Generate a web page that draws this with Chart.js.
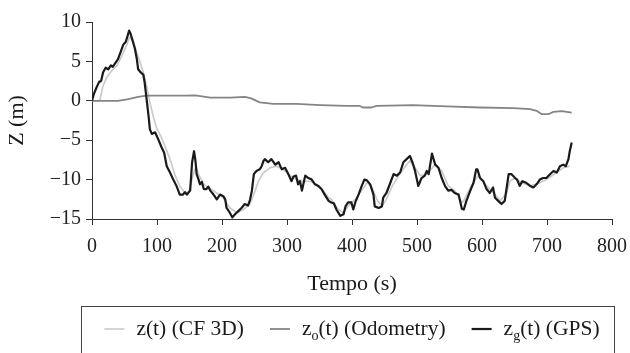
<!DOCTYPE html>
<html>
<head>
<meta charset="utf-8">
<script src="https://cdn.jsdelivr.net/npm/chart.js@4/dist/chart.umd.min.js"></script>
<style>
  html, body { margin: 0; padding: 0; background: #fff; }
  #wrap { width: 630px; height: 353px; }
</style>
</head>
<body>
<div id="wrap"><canvas id="c" width="630" height="353"></canvas></div>
<script>
// Time (s) and height Z (m) for each trace
const cfT = [0,8,12,17,23,30,38,46,53,58,64,69,74,79,84,89,94,99,106,112,120,128,135,143,149,154,158,161,164,172,187,202,212,223,233,243,251,256,264,274,284,294,305,315,325,335,346,356,364,368,379,387,394,405,415,423,431,438,446,453,462,472,482,489,497,505,515,528,538,548,558,569,572,582,594,605,618,628,638,643,651,661,674,689,699,715,725,735];
const cfZ = [0,0,0.1,1.9,3.0,3.8,4.4,5.7,7.0,8.1,7.4,6.1,4.9,3.6,1.9,-0.2,-1.9,-3.4,-4.5,-5.7,-7.4,-9.5,-10.8,-11.7,-11.5,-10.0,-8.7,-8.6,-9.3,-10.6,-11.4,-12.3,-13.6,-14.2,-13.8,-13.1,-11.4,-10.2,-9.1,-8.5,-8.3,-8.7,-9.5,-10.0,-10.2,-10.2,-10.6,-11.4,-12.3,-12.5,-13.8,-14.2,-13.4,-12.5,-11.4,-10.4,-11.0,-12.5,-13.4,-12.5,-10.8,-9.5,-8.3,-7.6,-8.5,-9.5,-9.3,-8.1,-8.9,-10.8,-11.4,-12.9,-12.7,-11.0,-9.5,-10.6,-11.7,-12.7,-11.7,-10.2,-9.8,-10.4,-10.8,-10.4,-10.0,-9.1,-8.5,-8.3];

const odoT = [0,20,40,56,71,84,115,143,159,182,213,235,245,258,279,315,351,392,412,415,418,430,438,494,546,597,648,674,684,692,702,710,723,738];
const odoZ = [0,0,0,0.2,0.5,0.65,0.65,0.65,0.7,0.4,0.4,0.5,0.3,-0.2,-0.4,-0.4,-0.55,-0.65,-0.65,-0.8,-0.85,-0.85,-0.65,-0.55,-0.7,-0.85,-0.93,-1.05,-1.27,-1.7,-1.7,-1.4,-1.3,-1.5];

const gpsT = [0,3,7,11,14,17,21,25,29,32,35,40,45,48,52,55,57,59,62,66,69,71,75,79,81,84,87,89,92,97,102,107,111,115,120,125,130,135,140,143,146,151,154,157,159,161,164,166,169,172,176,179,182,187,192,197,202,205,207,212,216,220,225,230,235,240,243,246,249,253,258,261,264,266,271,276,282,287,292,297,302,307,310,314,317,320,323,328,333,338,343,348,353,358,364,368,372,376,382,387,390,394,399,402,405,410,415,419,423,428,433,435,441,446,448,453,459,464,469,474,479,484,489,493,497,502,507,512,515,518,523,528,533,538,543,548,553,558,564,569,572,576,582,587,591,593,597,602,607,612,617,620,625,630,635,638,641,645,651,654,658,662,668,674,679,684,689,694,699,705,710,715,720,725,729,733,735,738];
const gpsZ = [0,0.9,1.7,2.4,2.5,3.6,4.2,4.0,4.5,4.3,4.7,5.3,6.4,7.1,7.5,8.3,8.9,8.6,7.8,6.6,5.3,4.0,3.6,3.3,2.3,0.2,-1.9,-3.6,-4.2,-4.0,-4.9,-5.9,-6.6,-8.3,-9.1,-10.0,-10.8,-11.9,-11.9,-11.6,-11.9,-11.4,-7.8,-6.4,-7.5,-9.3,-10.0,-10.6,-10.3,-11.2,-11.2,-10.9,-11.4,-11.9,-12.5,-11.9,-12.1,-12.5,-13.6,-14.2,-14.8,-14.4,-14.0,-13.6,-13.1,-13.3,-12.6,-11.4,-9.3,-8.9,-8.7,-8.3,-7.6,-7.4,-7.8,-7.4,-8.1,-7.8,-8.7,-8.5,-9.3,-10.2,-9.6,-9.5,-10.6,-10.2,-11.4,-9.5,-9.8,-10.0,-10.6,-10.8,-11.2,-11.9,-12.7,-12.9,-13.0,-13.8,-14.6,-14.4,-13.4,-12.9,-12.9,-13.8,-12.9,-11.9,-10.8,-10.0,-10.1,-10.6,-11.9,-13.4,-13.6,-13.4,-12.3,-11.7,-10.4,-9.3,-9.5,-9.1,-7.8,-7.4,-7.0,-7.8,-8.9,-10.8,-9.8,-9.5,-8.9,-9.3,-6.7,-8.1,-8.5,-9.8,-10.8,-11.4,-11.3,-11.7,-11.9,-13.7,-13.8,-12.7,-11.4,-10.4,-8.7,-8.7,-9.8,-10.2,-11.2,-11.7,-11.0,-12.3,-12.7,-13.1,-12.7,-11.0,-9.3,-9.3,-9.8,-10.0,-10.8,-10.2,-10.4,-10.8,-11.0,-10.6,-10.0,-9.8,-9.8,-9.3,-8.9,-9.1,-8.3,-8.1,-8.3,-7.4,-6.4,-5.3];

// Axis ticks
const xTicks = [0,100,200,300,400,500,600,700,800];
const yTicks = [-15,-10,-5,0,5,10];

// Legend entries: base letter, subscript, remainder
const legendParts = [
  ['z', '', '(t) (CF 3D)'],
  ['z', 'o', '(t) (Odometry)'],
  ['z', 'g', '(t) (GPS)']
];

const pts = (t, z) => t.map((v, i) => ({ x: v, y: z[i] }));
const SERIF = '"Liberation Serif", "Times New Roman", serif';

// Boxed legend with subscripted labels, drawn under the x-axis title
const boxLegend = {
  id: 'boxLegend',
  afterDraw(chart) {
    const ctx = chart.ctx;
    const sets = chart.data.datasets;
    const mainFont = '21.5px ' + SERIF;
    const subFont = '14px ' + SERIF;
    const y = 329, sample = 20, gapIn = 12, gapOut = 26;
    ctx.save();
    ctx.textBaseline = 'middle';
    const widths = legendParts.map(p => {
      ctx.font = mainFont;
      let w = ctx.measureText(p[0]).width + ctx.measureText(p[2]).width;
      ctx.font = subFont;
      w += ctx.measureText(p[1]).width;
      return w;
    });
    const total = widths.reduce((a, w) => a + sample + gapIn + w, 0) + gapOut * (widths.length - 1);
    let x = 352 - total / 2;
    ctx.strokeStyle = '#444';
    ctx.lineWidth = 1;
    ctx.strokeRect(81.5, 306.5, 533, 60);
    legendParts.forEach((p, i) => {
      const ds = sets[i];
      ctx.strokeStyle = ds.borderColor;
      ctx.lineWidth = ds.borderWidth;
      ctx.beginPath();
      ctx.moveTo(x, y);
      ctx.lineTo(x + sample, y);
      ctx.stroke();
      x += sample + gapIn;
      ctx.fillStyle = '#1a1a1a';
      ctx.font = mainFont;
      ctx.fillText(p[0], x, y);
      x += ctx.measureText(p[0]).width;
      if (p[1]) {
        ctx.font = subFont;
        ctx.fillText(p[1], x, y + 7);
        x += ctx.measureText(p[1]).width;
      }
      ctx.font = mainFont;
      ctx.fillText(p[2], x, y);
      x += ctx.measureText(p[2]).width + gapOut;
    });
    ctx.restore();
  }
};

new Chart(document.getElementById('c'), {
  type: 'line',
  data: {
    datasets: [
      { label: 'z(t) (CF 3D)', data: pts(cfT, cfZ), borderColor: '#c9c9c9', borderWidth: 1.6, order: 2 },
      { label: 'zo(t) (Odometry)', data: pts(odoT, odoZ), borderColor: '#858585', borderWidth: 1.8, order: 1 },
      { label: 'zg(t) (GPS)', data: pts(gpsT, gpsZ), borderColor: '#1a1a1a', borderWidth: 2.2, order: 0 }
    ]
  },
  options: {
    responsive: false,
    animation: false,
    events: [],
    layout: { padding: { left: 0, right: 18, top: 22, bottom: 56 } },
    elements: { point: { radius: 0 }, line: { tension: 0, borderJoinStyle: 'round' } },
    plugins: { legend: { display: false }, tooltip: { enabled: false } },
    scales: {
      x: {
        type: 'linear',
        min: 0, max: 800,
        afterBuildTicks: s => { s.ticks = xTicks.map(v => ({ value: v })); },
        afterFit: s => { s.height = 78; s.paddingLeft = 0; s.paddingRight = 0; },
        ticks: { color: '#222', font: { family: SERIF, size: 20 }, padding: 10, maxRotation: 0 },
        grid: { drawOnChartArea: false, drawTicks: true, tickLength: 6, color: '#333' },
        border: { color: '#333', width: 1 },
        title: { display: true, text: 'Tempo (s)', color: '#1a1a1a', font: { family: SERIF, size: 22 }, padding: 0 }
      },
      y: {
        type: 'linear',
        min: -15, max: 10,
        afterBuildTicks: s => { s.ticks = yTicks.map(v => ({ value: v })); },
        afterFit: s => { s.width = 92; },
        ticks: { color: '#222', font: { family: SERIF, size: 20 }, padding: 5,
                 callback: v => (v < 0 ? '\u2212' + Math.abs(v) : String(v)) },
        grid: { drawOnChartArea: false, drawTicks: true, tickLength: 6, color: '#333' },
        border: { color: '#333', width: 1 },
        title: { display: true, text: 'Z (m)', color: '#1a1a1a', font: { family: SERIF, size: 22 }, padding: { top: 4, bottom: 0 } }
      }
    }
  },
  plugins: [boxLegend]
});
</script>
</body>
</html>
